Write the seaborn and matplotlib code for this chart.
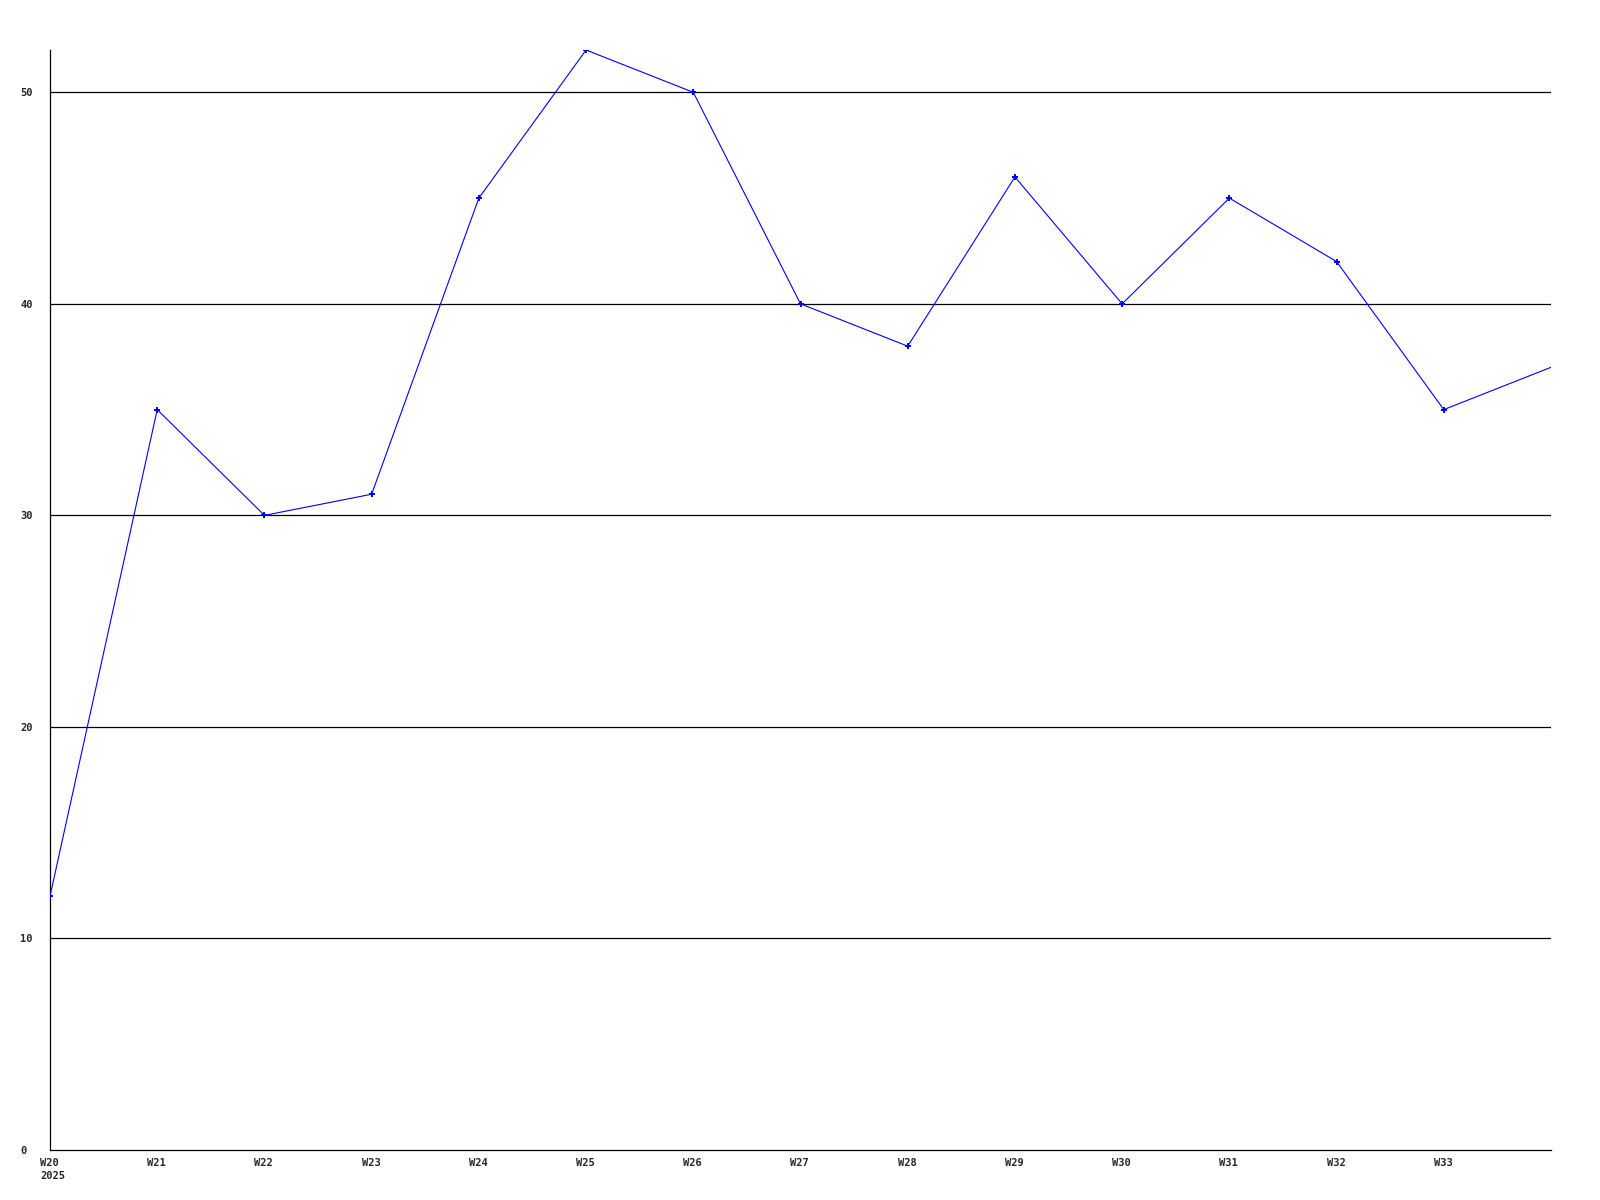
import matplotlib
matplotlib.use("Agg")
import matplotlib.pyplot as plt
import matplotlib.transforms as mtrans
import seaborn as sns
import pandas as pd

# weekly values
weeks = ["W20", "W21", "W22", "W23", "W24", "W25", "W26", "W27",
         "W28", "W29", "W30", "W31", "W32", "W33", "W34"]
values = [12, 35, 30, 31, 45, 52, 50, 40, 38, 46, 40, 45, 42, 35, 37]
tick_labels = ["W20\n2025", "W21", "W22", "W23", "W24", "W25", "W26",
               "W27", "W28", "W29", "W30", "W31", "W32", "W33"]
y_ticks = [0, 10, 20, 30, 40, 50]

df = pd.DataFrame({"idx": range(len(weeks)), "week": weeks, "value": values})

sns.set_style("white")
plt.rcParams["font.family"] = ["DejaVu Sans Mono", "DejaVu Sans"]

fig = plt.figure(figsize=(16, 12), dpi=100)
ax = fig.add_axes([50 / 1600, 1 - 1150 / 1200, 1501 / 1600, 1100 / 1200])

for y in y_ticks[1:]:
    ax.axhline(y, color="black", linewidth=0.9, zorder=1)

# last point sits on the right edge without a marker
sns.lineplot(data=df, x="idx", y="value", ax=ax, color="#0000ff",
             linewidth=0.8, marker="P", markersize=4,
             markeredgewidth=0, markevery=list(range(len(weeks) - 1)),
             zorder=3)

ax.set_xlim(0, 14)
ax.set_ylim(0, 52)
ax.set_xticks(range(len(tick_labels)))
ax.set_xticklabels(tick_labels, ha="left", linespacing=1.35)
ax.set_yticks(y_ticks)
ax.set_yticklabels([str(v) for v in y_ticks], ha="left")
ax.tick_params(axis="x", length=0, pad=6, labelsize=7.5)
ax.tick_params(axis="y", length=0, pad=21.5, labelsize=7.5)
for lab in ax.get_xticklabels() + ax.get_yticklabels():
    lab.set_fontweight("bold")
ax.set_xlabel("")
ax.set_ylabel("")

for side in ["top", "right"]:
    ax.spines[side].set_visible(False)
for side in ["left", "bottom"]:
    ax.spines[side].set_color("black")
    ax.spines[side].set_linewidth(0.9)

# shift x labels a bit left so they sit like the reference
offset = mtrans.ScaledTranslation(-10 / 100, 0, fig.dpi_scale_trans)
for lab in ax.get_xticklabels():
    lab.set_transform(lab.get_transform() + offset)

fig.savefig("out.png", dpi=100, facecolor="white")
